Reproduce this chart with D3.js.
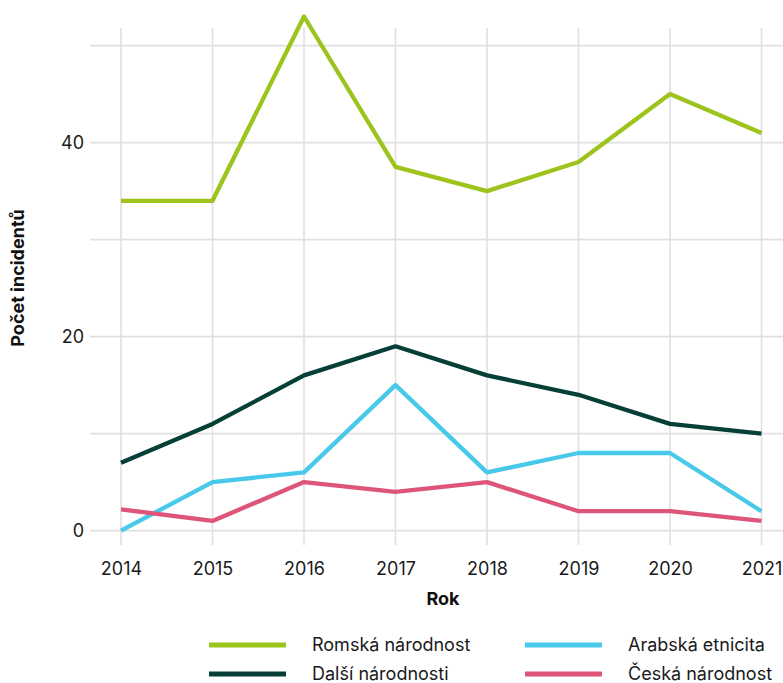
<!DOCTYPE html>
<html><head><meta charset="utf-8">
<script src="https://cdn.jsdelivr.net/npm/d3@7"></script>
<style>
body{margin:0;background:#fff;}
svg{display:block;font-family:Inter,"Noto Sans",sans-serif;}
</style></head>
<body>
<svg id="c" width="783" height="683"></svg>
<script>
const years = [2014, 2015, 2016, 2017, 2018, 2019, 2020, 2021];
const romska = [34, 34, 53, 37.5, 35, 38, 45, 41];
const dalsi = [7, 11, 16, 19, 16, 14, 11, 10];
const arabska = [0, 5, 6, 15, 6, 8, 8, 2];
const ceska = [2.2, 1, 5, 4, 5, 2, 2, 1];
const seriesNames = ["Romská národnost", "Další národnosti", "Arabská etnicita", "Česká národnost"];
const seriesColors = ["#9dc41d", "#063f37", "#48c9e9", "#de557a"];
const yGridTicks = [0, 10, 20, 30, 40, 50];
const yLabelTicks = [0, 20, 40];

const series = [romska, dalsi, arabska, ceska];
const svg = d3.select("#c");
const x = d3.scalePoint().domain(years).range([121, 761.5]);
const y = d3.scaleLinear().domain([0, 50]).range([530.6, 45.6]);

// grid
const grid = svg.append("g");
grid.selectAll("line.h").data(yGridTicks).join("line")
  .attr("x1", 90).attr("x2", 783)
  .attr("y1", d => y(d)).attr("y2", d => y(d))
  .attr("stroke", "#e0e0e0").attr("stroke-width", 1.6);
grid.selectAll("line.v").data(years).join("line")
  .attr("x1", d => x(d)).attr("x2", d => x(d))
  .attr("y1", 28).attr("y2", 545)
  .attr("stroke", "#e0e0e0").attr("stroke-width", 1.6);

// axes
const yAxis = d3.axisLeft(y).tickValues(yLabelTicks).tickSize(0).tickPadding(6);
const ya = svg.append("g").attr("transform", "translate(90,0)").call(yAxis);
ya.select(".domain").remove();
ya.selectAll("text").attr("font-size", 18).attr("fill", "#1a1a1a").attr("font-family", "Inter,sans-serif");

const xAxis = d3.axisBottom(x).tickSize(0).tickPadding(0).tickFormat(d3.format("d"));
const xa = svg.append("g").attr("transform", "translate(0,556)").call(xAxis);
xa.select(".domain").remove();
xa.selectAll("text").attr("font-size", 18).attr("fill", "#1a1a1a").attr("font-family", "Inter,sans-serif")
  .attr("dy", null).attr("y", 19);

svg.append("text").attr("x", 443).attr("y", 605).attr("text-anchor", "middle")
  .attr("font-size", 18).attr("font-weight", 700).attr("fill", "#111").text("Rok");
svg.append("text").attr("transform", "translate(24,278) rotate(-90)").attr("text-anchor", "middle")
  .attr("font-size", 18).attr("font-weight", 700).attr("fill", "#111").text("Počet incidentů");

// lines
const line = d3.line().x((d, i) => x(years[i])).y(d => y(d));
svg.append("g").selectAll("path").data(series).join("path")
  .attr("d", d => line(d)).attr("fill", "none")
  .attr("stroke", (d, i) => seriesColors[i]).attr("stroke-width", 4.3)
  .attr("stroke-linejoin", "round");

// legend
const legPos = [[209, 645], [209, 674], [525, 645], [525, 674]];
const leg = svg.append("g");
seriesNames.forEach((n, i) => {
  const [lx, ly] = legPos[i];
  leg.append("line").attr("x1", lx).attr("x2", lx + 77).attr("y1", ly).attr("y2", ly)
    .attr("stroke", seriesColors[i]).attr("stroke-width", 5);
  leg.append("text").attr("x", lx + 103).attr("y", ly).attr("dy", "0.35em")
    .attr("font-size", 18).attr("fill", "#1a1a1a").text(n);
});
</script>
</body></html>
